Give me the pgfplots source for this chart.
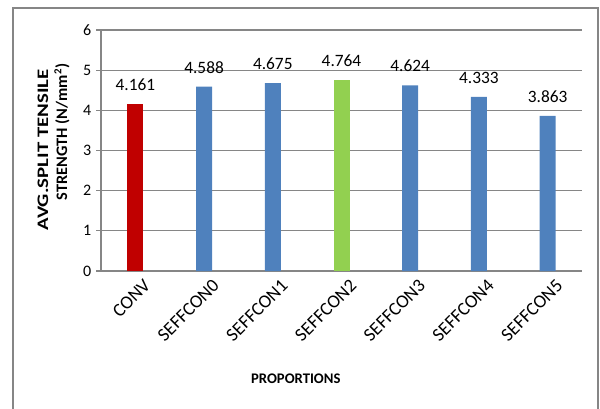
\documentclass[border=0pt]{standalone}
\usepackage{pgfplots}
\pgfplotsset{compat=1.18}
\usepackage{fontspec}
\setmainfont{Carlito}
\definecolor{cred}{HTML}{C00000}
\definecolor{cblue}{HTML}{4F81BD}
\definecolor{cgreen}{HTML}{92D050}
\definecolor{cgrid}{HTML}{868686}
\begin{document}
\begin{tikzpicture}[x=0.75pt,y=0.75pt]
\useasboundingbox (0,0) rectangle (600,408);
\draw[cgrid, line width=0.9pt] (13,-5) -- (13,400) -- (598,400) -- (598,-5);
\node[rotate=90, anchor=center, font=\bfseries\fontsize{12}{14}\selectfont] at (43,258) {\scalebox{1.3}[1]{AVG.SPLIT TENSILE}};
\node[rotate=90, anchor=center, font=\bfseries\fontsize{12}{14}\selectfont] at (62,276) {\scalebox{1.02}[1]{STRENGTH (N/mm\textsuperscript{2})}};
\begin{axis}[
  at={(101*0.75pt,137*0.75pt)}, anchor=south west,
  scale only axis, width=360.75pt, height=180.75pt,
  xmin=-0.5, xmax=6.5, ymin=0, ymax=6,
  ytick={0,...,6}, xtick={0,...,6},
  xticklabels={CONV,SEFFCON0,SEFFCON1,SEFFCON2,SEFFCON3,SEFFCON4,SEFFCON5},
  xticklabel style={rotate=45, anchor=north east, font=\fontsize{14}{16}\selectfont, inner sep=1pt, xshift=4pt, yshift=-4pt},
  yticklabel style={font=\fontsize{12}{14}\selectfont},
  /pgf/number format/assume math mode=true,
  axis x line*=bottom, axis y line*=left,
  axis line style={cgrid, line width=0.8pt, -},
  ymajorgrids, grid style={cgrid, line width=0.8pt},
  xtick style={draw=none},
  ytick style={cgrid, line width=0.8pt},
  tick align=outside, major tick length=3.75pt,
  ybar, bar width=12pt, bar shift=0pt,
  nodes near coords={\pgfmathprintnumber[fixed,precision=3,zerofill]{\pgfplotspointmeta}},
  every node near coord/.append style={font=\fontsize{13}{15}\selectfont, anchor=base, yshift=10pt, black},
  xlabel={PROPORTIONS},
  xlabel style={font=\bfseries\fontsize{11}{13}\selectfont, at={(axis description cs:0.405,-0.448)}, anchor=center},
]
\addplot[fill=cred, draw=none] coordinates {(0,4.161)};
\addplot[fill=cblue, draw=none] coordinates {(1,4.588) (2,4.675) (4,4.624) (5,4.333) (6,3.863)};
\addplot[fill=cgreen, draw=none] coordinates {(3,4.764)};
\end{axis}
\end{tikzpicture}
\end{document}
